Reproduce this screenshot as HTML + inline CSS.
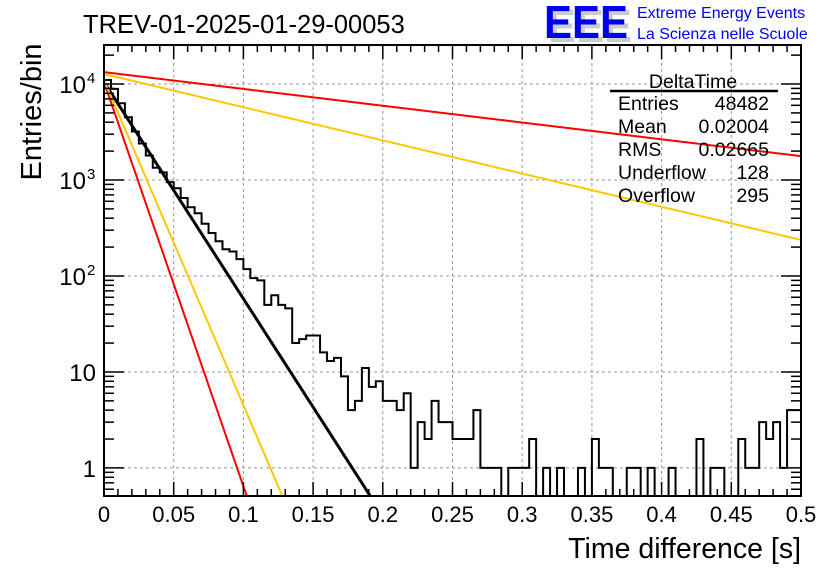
<!DOCTYPE html>
<html><head><meta charset="utf-8"><style>
html,body{margin:0;padding:0;background:#fff;}
svg{display:block;font-family:"Liberation Sans",Arial,sans-serif;}
</style></head><body>
<svg id="c" width="836" height="572" viewBox="0 0 836 572">
<text x="83" y="33" font-size="25.5" fill="#000">TREV-01-2025-01-29-00053</text>
<g>
<text x="548" y="42" font-size="46" font-weight="bold" fill="#ccc" textLength="84" lengthAdjust="spacingAndGlyphs">EEE</text>
<text x="544" y="38" font-size="46" font-weight="bold" fill="#0000ee" textLength="84" lengthAdjust="spacingAndGlyphs">EEE</text>
<text x="637" y="18" font-size="16" fill="#0000ee">Extreme Energy Events</text>
<text x="637" y="39" font-size="16" fill="#0000ee">La Scienza nelle Scuole</text>
</g>
<g id="grid"></g>
<g id="marks"></g>
<g id="axes"></g>
<g font-size="19.5" fill="#000">
<text x="693" y="88" text-anchor="middle">DeltaTime</text>
<line x1="610" y1="91" x2="778" y2="91" stroke="#000" stroke-width="2.5"/>
<text x="618" y="110">Entries</text><text x="769" y="110" text-anchor="end">48482</text>
<text x="618" y="133">Mean</text><text x="769" y="133" text-anchor="end">0.02004</text>
<text x="618" y="156">RMS</text><text x="769" y="156" text-anchor="end">0.02665</text>
<text x="618" y="179">Underflow</text><text x="769" y="179" text-anchor="end">128</text>
<text x="618" y="202">Overflow</text><text x="769" y="202" text-anchor="end">295</text>
</g>
<text x="801" y="558" font-size="28.5" text-anchor="end">Time difference [s]</text>
<text transform="translate(41,112) rotate(-90)" font-size="29" text-anchor="middle">Entries/bin</text>
</svg>
<script>
const counts=[11000,8900,6300,4500,3200,2400,1800,1340,1200,950,820,650,520,450,350,280,230,190,180,150,118,95,90,50,63,50,46,20,22,24,24,16,13,14,9,4,5,11,7,8,5,5,4,6,1,3,2,5,3,3,2,2,2,4,1,1,1,0,1,1,1,2,0,1,0,1,0,0,1,0,2,1,1,0,0,1,1,0,1,0,0,1,0,0,0,2,0,1,1,0,0,2,1,1,3,2,3,1,4,4];
const binWidth=0.005;
const fitAmps=[10500,10500,11000,13300,12700];
const fitRates=[52,97,78,4.03,7.96];
const fitColors=["#000","#ff0000","#ffc800","#ff0000","#ffc800"];
const xTicks=[0,0.05,0.1,0.15,0.2,0.25,0.3,0.35,0.4,0.45,0.5];
const xTickLabels=["0","0.05","0.1","0.15","0.2","0.25","0.3","0.35","0.4","0.45","0.5"];
const yDecades=[1,10,100,1000,10000];
const yTickLabels=["1","10","10","10","10"];
const yTickSup=["","","2","3","4"];

const L=104,R=801,T=45,B=496,yMin=0.51,yMax=25500;
const ns="http://www.w3.org/2000/svg";
const X=v=>L+(v/0.5)*(R-L);
const Y=v=>{const lv=Math.log10(Math.max(v,yMin));return B-(lv-Math.log10(yMin))/(Math.log10(yMax)-Math.log10(yMin))*(B-T);};
function mk(tag,attrs,parent){const e=document.createElementNS(ns,tag);for(const k in attrs)e.setAttribute(k,attrs[k]);parent.appendChild(e);return e;}
const grid=document.getElementById('grid'),marks=document.getElementById('marks'),axes=document.getElementById('axes');

xTicks.forEach((t,i)=>{
  if(i>0&&i<xTicks.length-1){const g=mk('line',{x1:X(t),x2:X(t),y1:T,y2:B,stroke:'#999','stroke-dasharray':'3,3','stroke-width':1},grid);
  
  }
  const tx=mk('text',{x:X(t),y:522,'font-size':22,'text-anchor':'middle'},axes);tx.textContent=xTickLabels[i];
  
  
});
yDecades.forEach((d,i)=>{
  const g=mk('line',{x1:L,x2:R,y1:Y(d),y2:Y(d),stroke:'#999','stroke-dasharray':'3,3','stroke-width':1},grid);
  
  
  const tx=mk('text',{x:yTickSup[i]?86:96,y:Y(d)+9,'font-size':24,'text-anchor':'end'},axes);tx.textContent=yTickLabels[i];
  
  
  if(yTickSup[i]){const s=mk('text',{x:87,y:Y(d)-1,'font-size':15},axes);s.textContent=yTickSup[i];
  
  }
});
let d='M'+X(0)+','+B;
counts.forEach((c,i)=>{const y=c>0?Y(c):B;d+=' L'+X(i*binWidth)+','+y+' L'+X((i+1)*binWidth)+','+y;});
d+=' L'+X(counts.length*binWidth)+','+B;
const h=mk('path',{d:d,fill:'none',stroke:'#000','stroke-width':2},marks);


fitAmps.forEach((A,k)=>{
  let p='';for(let j=0;j<=200;j++){const t=0.5*j/200;const v=A*Math.exp(-fitRates[k]*t);if(v<yMin*0.98){const tt=Math.log(A/yMin)/fitRates[k];p+=' L'+X(tt)+','+B;break;}p+=(j?' L':'M')+X(t)+','+Y(v);}
  const e=mk('path',{d:p,fill:'none',stroke:fitColors[k],'stroke-width':k==0?3:2},marks);
  
  
});
const f=mk('rect',{x:L,y:T,width:R-L,height:B-T,fill:'none',stroke:'#000','stroke-width':2},axes);


for(let i=0;i<=50;i++){const t=i*0.01;const len=i%5==0?14:7;
  mk('line',{x1:X(t),x2:X(t),y1:B,y2:B-len,stroke:'#000','stroke-width':1.5},axes);
  mk('line',{x1:X(t),x2:X(t),y1:T,y2:T+len,stroke:'#000','stroke-width':1.5},axes);}
for(let e=-1;e<=4;e++){for(let m=1;m<=9;m++){const v=m*Math.pow(10,e);if(v<yMin||v>yMax)continue;const len=m==1?20:10;
  mk('line',{x1:L,x2:L+len,y1:Y(v),y2:Y(v),stroke:'#000','stroke-width':1.5},axes);
  mk('line',{x1:R,x2:R-len,y1:Y(v),y2:Y(v),stroke:'#000','stroke-width':1.5},axes);}}
</script>
</body></html>
